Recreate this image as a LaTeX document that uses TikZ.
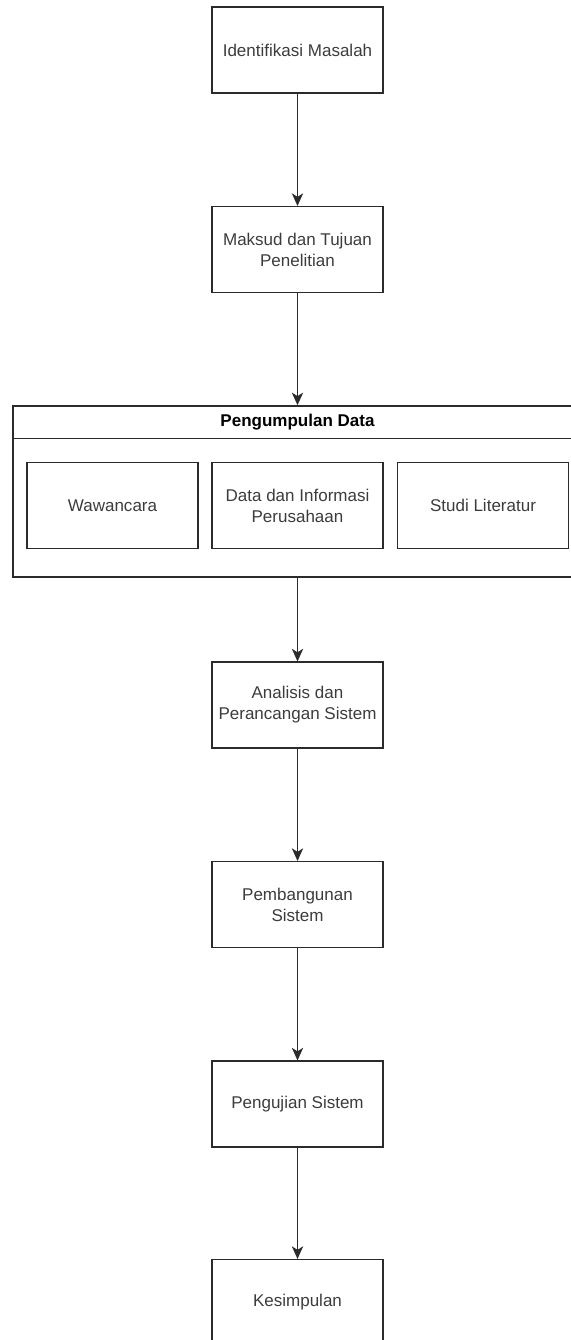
\documentclass[tikz,border=0pt]{standalone}
\usepackage{fontspec}
\setmainfont{Liberation Sans}
\usepackage{tikz}
\usetikzlibrary{arrows.meta}
\definecolor{garis}{HTML}{2B2B2B}
\definecolor{teks}{HTML}{3C3C3C}

\begin{document}
\begin{tikzpicture}[
  x=0.025cm, y=-0.025cm,
  proses/.style={rectangle, draw=garis, line width=1pt, minimum width=4.275cm,
                 minimum height=2.14cm, align=center, text=teks,
                 font=\fontsize{12.1}{15}\selectfont},
  arrow/.style={-{Stealth[length=9pt, width=8pt, inset=2.5pt]}, line width=1pt, draw=garis}
]
\useasboundingbox (0,0) rectangle (571,1340);

%% Alur utama
\node[proses] at (297.5,50)    (identifikasi) {Identifikasi Masalah};
\node[proses] at (297.5,249.5) (maksud) {Maksud dan Tujuan\\Penelitian};

%% Pengumpulan data (kontainer)
\node[rectangle, draw=garis, line width=1pt, minimum width=14.225cm,
      minimum height=4.275cm] at (297.5,491.5) (pengumpulan) {};
\node[font=\fontsize{12.1}{15}\selectfont\bfseries, text=black] at (297.5,422.5) (judul) {Pengumpulan Data};
\draw[draw=garis, line width=1pt] ([yshift=-0.825cm]pengumpulan.north west) -- ([yshift=-0.825cm]pengumpulan.north east);

\node[proses] at (112.5,505.5) (wawancara) {Wawancara};
\node[proses] at (297.5,505.5) (datainfo) {Data dan Informasi\\Perusahaan};
\node[proses] at (483,505.5)   (studi) {Studi Literatur};

\node[proses] at (297.5,705)    (analisis) {Analisis dan\\Perancangan Sistem};
\node[proses] at (297.5,904.5)  (pembangunan) {Pembangunan\\Sistem};
\node[proses] at (297.5,1104)   (pengujian) {Pengujian Sistem};
\node[proses] at (297.5,1302.5) (kesimpulan) {Kesimpulan};

%% Panah
\draw[arrow] (identifikasi) -- (maksud);
\draw[arrow] (maksud) -- (pengumpulan);
\draw[arrow] (pengumpulan) -- (analisis);
\draw[arrow] (analisis) -- (pembangunan);
\draw[arrow] (pembangunan) -- (pengujian);
\draw[arrow] (pengujian) -- (kesimpulan);
\end{tikzpicture}
\end{document}
